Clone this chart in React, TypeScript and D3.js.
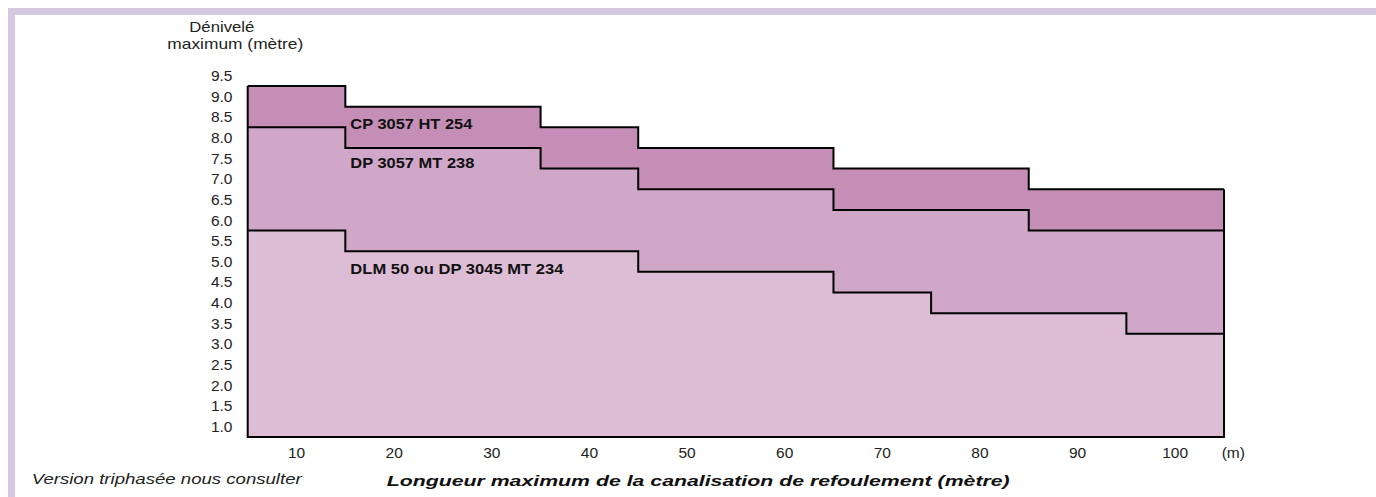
import React from "react";
import * as d3 from "d3";

// Segment edges along the pipe length (m)
const edges = [5, 15, 35, 45, 65, 75, 85, 95, 105];
// Max head (m) per segment for each pump
const cpValues = [9.25, 8.75, 8.25, 7.75, 7.25, 7.25, 6.75, 6.75];
const dpValues = [8.25, 7.75, 7.25, 6.75, 6.25, 6.25, 5.75, 5.75];
const dlmValues = [5.75, 5.25, 5.25, 4.75, 4.25, 3.75, 3.75, 3.25];
const seriesNames = ["CP 3057 HT 254", "DP 3057 MT 238", "DLM 50 ou DP 3045 MT 234"];
const seriesColors = ["#c48eb7", "#d0a7c9", "#ddbcd6"];
const yTicks = [1.0, 1.5, 2.0, 2.5, 3.0, 3.5, 4.0, 4.5, 5.0, 5.5, 6.0, 6.5, 7.0, 7.5, 8.0, 8.5, 9.0, 9.5];
const xTicks = [10, 20, 30, 40, 50, 60, 70, 80, 90, 100];
const yBase = 0.75;

const W = 1376;
const H = 497;
const FONT = "'Liberation Sans', Arial, Helvetica, sans-serif";

export default function App() {
  const x = d3.scaleLinear().domain([5, 105]).range([247.7, 1224]);
  const y = d3.scaleLinear().domain([1, 9.5]).range([426.7, 75.7]);

  const toPts = (vals: number[]) => {
    const pts = vals.map((v, i) => [edges[i], v] as [number, number]);
    pts.push([edges[edges.length - 1], vals[vals.length - 1]]);
    return pts;
  };

  const area = d3
    .area<[number, number]>()
    .x((d) => x(d[0]))
    .y0(y(yBase))
    .y1((d) => y(d[1]))
    .curve(d3.curveStepAfter);
  const line = d3
    .line<[number, number]>()
    .x((d) => x(d[0]))
    .y((d) => y(d[1]))
    .curve(d3.curveStepAfter);

  const all = [cpValues, dpValues, dlmValues];
  const labelPos = [
    { v: 8.33, dy: 5 },
    { v: 7.38, dy: 5 },
    { v: 4.84, dy: 5.5 },
  ];

  return (
    <svg
      width={W}
      height={H}
      style={{ position: "absolute", left: 0, top: 0, display: "block" }}
      fontFamily={FONT}
    >
      <rect x={0} y={0} width={W} height={H} fill="#ffffff" />
      {/* frame */}
      <rect x={8} y={8} width={W - 8} height={7} fill="#d4c8e1" />
      <rect x={8} y={8} width={7} height={H - 8} fill="#d4c8e1" />

      {/* areas */}
      {all.map((vals, i) => (
        <path key={"a" + i} d={area(toPts(vals)) || ""} fill={seriesColors[i]} />
      ))}
      {/* step lines */}
      {all.map((vals, i) => (
        <path key={"l" + i} d={line(toPts(vals)) || ""} fill="none" stroke="#000" strokeWidth={2} />
      ))}
      {/* outline: left, bottom, right */}
      <path
        d={`M${x(5)},${y(cpValues[0])}V${y(yBase)}H${x(105)}V${y(cpValues[cpValues.length - 1])}`}
        fill="none"
        stroke="#000"
        strokeWidth={2}
      />

      {/* series labels */}
      {seriesNames.map((n, i) => (
        <text
          key={"n" + i}
          x={x(15) + 5}
          y={y(labelPos[i].v) + labelPos[i].dy}
          fontSize={14.5}
          fontWeight="bold"
          fill="#111"
          textLength={[122, 124, 213][i]}
          lengthAdjust="spacingAndGlyphs"
        >
          {n}
        </text>
      ))}

      {/* y ticks */}
      {yTicks.map((t) => (
        <text key={"y" + t} x={232.5} y={y(t) + 5.3} textAnchor="end" fontSize={15.5} fill="#222">
          {d3.format(".1f")(t)}
        </text>
      ))}
      {/* y title */}
      <text x={189.3} y={32.3} fontSize={15} fill="#222" textLength={65} lengthAdjust="spacingAndGlyphs">
        Dénivelé
      </text>
      <text x={167.3} y={49.3} fontSize={15} fill="#222" textLength={136} lengthAdjust="spacingAndGlyphs">
        maximum (mètre)
      </text>

      {/* x ticks */}
      {xTicks.map((t) => (
        <text key={"x" + t} x={x(t)} y={458.3} textAnchor="middle" fontSize={15.5} fill="#222">
          {t}
        </text>
      ))}
      <text x={1221.7} y={458.3} fontSize={15.5} fill="#222">
        (m)
      </text>

      {/* bottom texts */}
      <text
        x={31.7}
        y={484}
        fontSize={15}
        fontStyle="italic"
        fill="#222"
        textLength={270}
        lengthAdjust="spacingAndGlyphs"
      >
        Version triphasée nous consulter
      </text>
      <text
        x={386.7}
        y={486}
        fontSize={15.5}
        fontStyle="italic"
        fontWeight="bold"
        fill="#111"
        textLength={623}
        lengthAdjust="spacingAndGlyphs"
      >
        Longueur maximum de la canalisation de refoulement (mètre)
      </text>
    </svg>
  );
}
